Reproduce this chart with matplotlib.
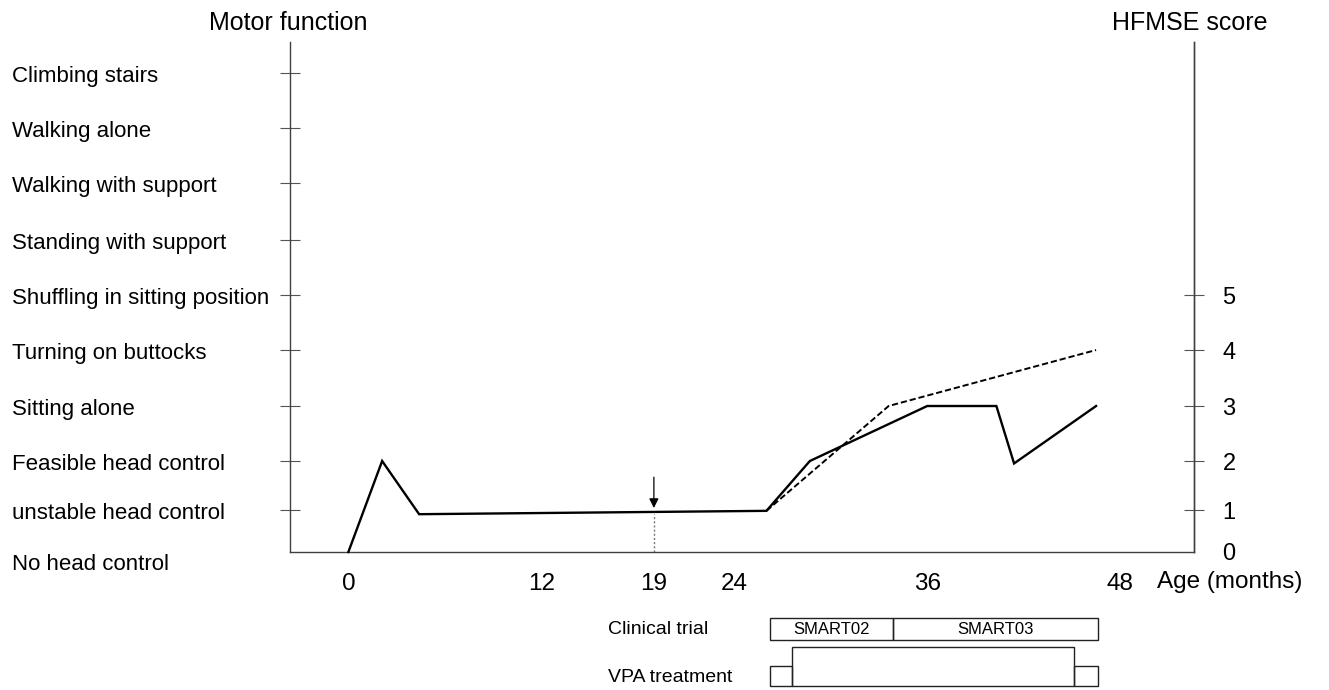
import numpy as np
import matplotlib
matplotlib.use("Agg")
import matplotlib.pyplot as plt
from matplotlib.patches import Rectangle

plt.rcParams['font.family'] = ['Liberation Sans', 'DejaVu Sans']

# ---------------- data ----------------
motor_levels = ["No head control", "unstable head control", "Feasible head control",
                "Sitting alone", "Turning on buttocks", "Shuffling in sitting position",
                "Standing with support", "Walking with support", "Walking alone",
                "Climbing stairs"]
hfmse_ticks = [0, 1, 2, 3, 4, 5]
age_ticks = [0, 12, 19, 24, 36, 48]

solid_age = [0, 2.1, 4.4, 26.0, 28.7, 36.0, 40.3, 41.4, 46.5]
solid_val = [0, 2, 0.9, 0.98, 2, 3, 3, 1.95, 3]
dashed_age = [26.0, 33.6, 46.5]
dashed_val = [0.98, 3, 4]

event_age = 19
event_val = 0.9          # level of curve at the event

trial_names = ["SMART02", "SMART03"]
trial_start = [26.2, 33.9]
trial_end = [33.9, 46.6]

vpa_start = [26.2, 27.6, 45.1]
vpa_end = [27.6, 45.1, 46.6]
vpa_high = [False, True, False]

# ---------------- figure ----------------
W, H = 1329, 690
fig = plt.figure(figsize=(W / 100, H / 100), dpi=100)

def fx(px):
    return px / W

def fy(py):
    return 1 - py / H

ax = fig.add_axes([fx(290), fy(552), fx(1194) - fx(290), fy(42) - fy(552)])

# non-uniform vertical scale as in the original drawing
knots_v = [-10, 0, 1, 2, 3, 4, 5, 6, 7, 8, 9, 20]
knots_p = [-550, 0, 42, 91, 146, 202, 257, 312, 369, 424, 479, 479 + 11 * 55.4]

def fwd(v):
    return np.interp(v, knots_v, knots_p)

def inv(p):
    return np.interp(p, knots_p, knots_v)

ax.set_yscale('function', functions=(fwd, inv))
ax.set_xlim(-3.63, 52.59)
ax.set_ylim(0, 9.56)

ax.plot(solid_age, solid_val, color='black', lw=1.7, solid_joinstyle='miter', clip_on=False, zorder=3)
ax.plot(dashed_age, dashed_val, color='black', lw=1.4, ls=(0, (3.2, 1.5)), zorder=3)

# event marker
ax.plot([event_age, event_age], [0, event_val], color='#777777', lw=1.0, ls=(0, (1.5, 1.5)))
ax.annotate("", xy=(event_age, 1.04), xytext=(event_age, 1.67),
            arrowprops=dict(arrowstyle='-|>', color='black', lw=0.9,
                            mutation_scale=14, shrinkA=0, shrinkB=0))

# spines
ax.spines['top'].set_visible(False)
for s in ['left', 'right', 'bottom']:
    ax.spines[s].set_color('#404040')
    ax.spines[s].set_linewidth(1.0)

# left ticks (motor function)
ax.set_yticks(range(1, len(motor_levels)))
ax.tick_params(axis='y', which='major', direction='inout', length=15, width=0.8,
               color='#555555', labelleft=False, left=True, right=False)
ax.yaxis.set_minor_locator(matplotlib.ticker.NullLocator())

for i, lab in enumerate(motor_levels):
    off = -13 if i == 0 else -3
    ax.annotate(lab, xy=(fx(12), i), xycoords=('figure fraction', 'data'),
                xytext=(0, off * 0.72), textcoords='offset points',
                ha='left', va='center', fontsize=16, annotation_clip=False)

# x ticks
ax.set_xticks(age_ticks)
ax.set_xticklabels([str(a) for a in age_ticks])
ax.tick_params(axis='x', length=0, pad=15, labelsize=17.5)

# right axis (HFMSE score)
ax2 = ax.twinx()
ax2.set_yscale('function', functions=(fwd, inv))
ax2.set_ylim(ax.get_ylim())
ax2.set_yticks(hfmse_ticks)
ax2.set_yticklabels([str(v) for v in hfmse_ticks])
ax2.yaxis.set_minor_locator(matplotlib.ticker.NullLocator())
ax2.tick_params(axis='y', direction='inout', length=15, width=0.8, color='#555555',
                labelsize=17, pad=13)
ax2.yaxis.get_major_ticks()[0].tick2line.set_visible(False)
for s in ['top', 'left', 'bottom']:
    ax2.spines[s].set_visible(False)
ax2.spines['right'].set_color('#404040')
ax2.spines['right'].set_linewidth(1.0)

# headers
fig.text(fx(288), fy(23), "Motor function", ha='center', va='center', fontsize=18)
fig.text(fx(1190), fy(23), "HFMSE score", ha='center', va='center', fontsize=18)
fig.text(fx(1157), fy(582), "Age (months)", ha='left', va='center', fontsize=17.5)

# ---------------- bottom timeline ----------------
axb = fig.add_axes([fx(290), 0, fx(1194) - fx(290), 90 / H], sharex=ax)
axb.set_ylim(90, 0)
axb.axis('off')

for name, s, e in zip(trial_names, trial_start, trial_end):
    axb.add_patch(Rectangle((s, 18), e - s, 22, fill=False, ec='#222222', lw=1.0))
    axb.text((s + e) / 2, 29, name, ha='center', va='center', fontsize=12)

for s, e, hi in zip(vpa_start, vpa_end, vpa_high):
    top = 46.7 if hi else 65.7
    axb.add_patch(Rectangle((s, top), e - s, 86 - top, fill=False, ec='#222222', lw=1.0))

fig.text(fx(608), fy(630), "Clinical trial", ha='left', va='center', fontsize=14)
fig.text(fx(608), fy(678), "VPA treatment", ha='left', va='center', fontsize=14)

fig.savefig("out.png", dpi=100, facecolor='white')
